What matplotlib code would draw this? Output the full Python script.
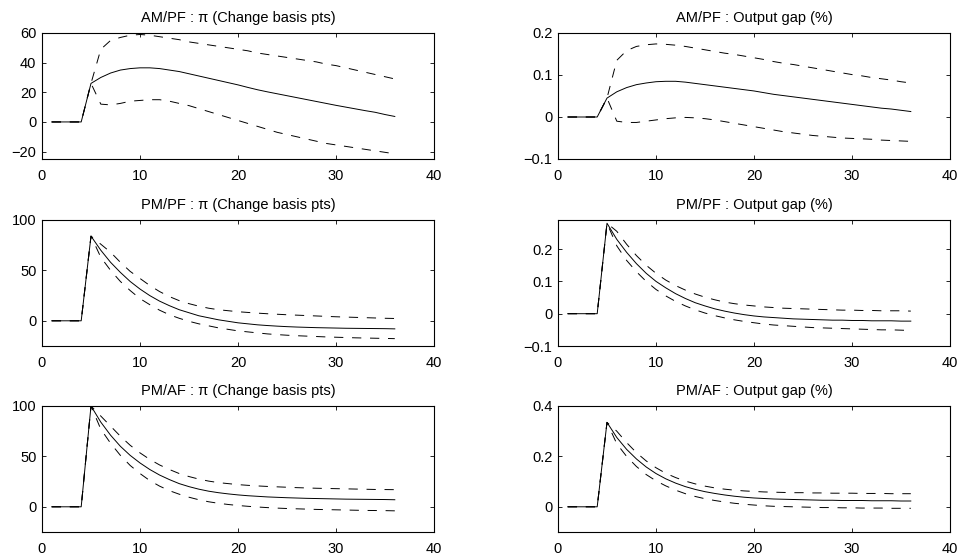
import numpy as np
from matplotlib import pyplot as plt

plt.rcParams["font.family"] = ["Liberation Sans", "DejaVu Sans"]

periods = list(range(1, 37))
pre = [0, 0, 0, 0]

# AM/PF
ampf_pi_mid = pre + [26, 30, 33, 35, 36, 36.5, 36.5, 36, 35, 34, 32.5, 31, 29.5, 28, 26.5, 25,
                     23.3, 21.7, 20.3, 19, 17.7, 16.4, 15.1, 13.8, 12.5, 11.2, 10, 8.8, 7.6, 6.5, 5, 3.7]
ampf_pi_hi = pre + [26, 49, 55, 57, 58.5, 59, 58.5, 57.5, 56.5, 55.5, 54, 53, 52, 51, 50, 49,
                    48, 46.5, 45.5, 44.5, 43.5, 42.5, 41.5, 40.5, 39, 38, 36.5, 35, 33.5, 32, 30.5, 29]
ampf_pi_lo = pre + [26, 12, 11.5, 12.5, 14, 14.5, 15, 15, 14, 12.5, 11, 9, 7, 5, 3, 1,
                    -1, -3, -5, -7, -8.5, -10, -11.5, -13, -14.5, -15.5, -16.5, -17.5, -18.5, -19.5, -20.5, -21.5]
ampf_y_mid = pre + [0.045, 0.06, 0.07, 0.077, 0.081, 0.084, 0.085, 0.085, 0.083, 0.08, 0.077, 0.074,
                    0.071, 0.068, 0.065, 0.062, 0.058, 0.054, 0.051, 0.048, 0.045, 0.042, 0.039, 0.036,
                    0.033, 0.03, 0.027, 0.024, 0.021, 0.019, 0.016, 0.013]
ampf_y_hi = pre + [0.045, 0.135, 0.158, 0.168, 0.172, 0.174, 0.173, 0.171, 0.168, 0.164, 0.16, 0.156,
                   0.152, 0.149, 0.145, 0.141, 0.137, 0.132, 0.128, 0.125, 0.121, 0.117, 0.113, 0.109,
                   0.105, 0.101, 0.098, 0.094, 0.091, 0.088, 0.084, 0.081]
ampf_y_lo = pre + [0.045, -0.01, -0.013, -0.013, -0.01, -0.007, -0.004, -0.002, -0.001, -0.002, -0.004,
                   -0.007, -0.011, -0.015, -0.019, -0.023, -0.027, -0.031, -0.035, -0.038, -0.041, -0.044,
                   -0.046, -0.048, -0.05, -0.051, -0.052, -0.053, -0.055, -0.056, -0.057, -0.058]

# PM/PF
pmpf_pi_mid = pre + [84, 70, 58, 48, 39, 31.5, 25, 19.5, 15, 11, 8, 5, 3, 1, -0.5, -2,
                     -3, -4, -4.7, -5.3, -5.8, -6.2, -6.5, -6.8, -7, -7.2, -7.4, -7.5, -7.6, -7.7, -7.8, -8]
pmpf_pi_hi = pre + [84, 76, 68, 58, 49, 42, 35, 29, 24, 20, 17, 14.5, 12.5, 11, 10, 9,
                    8.3, 7.6, 7, 6.5, 6, 5.6, 5.2, 4.8, 4.4, 4, 3.7, 3.4, 3.1, 2.8, 2.5, 2.3]
pmpf_pi_lo = pre + [84, 63, 50, 39, 30, 22, 16, 10.5, 6, 2.5, -0.5, -3, -5, -7, -8.5, -10,
                    -11, -12, -13, -13.7, -14.3, -14.8, -15.2, -15.6, -16, -16.3, -16.6, -16.9, -17.1,
                    -17.3, -17.5, -17.7]
pmpf_y_mid = pre + [0.28, 0.23, 0.19, 0.155, 0.125, 0.1, 0.08, 0.062, 0.047, 0.034, 0.024, 0.015,
                    0.008, 0.002, -0.003, -0.007, -0.01, -0.012, -0.014, -0.016, -0.017, -0.018, -0.019,
                    -0.02, -0.02, -0.021, -0.021, -0.022, -0.022, -0.022, -0.023, -0.023]
pmpf_y_hi = pre + [0.28, 0.255, 0.215, 0.18, 0.15, 0.125, 0.104, 0.087, 0.073, 0.061, 0.051, 0.043,
                   0.036, 0.031, 0.027, 0.024, 0.021, 0.019, 0.017, 0.016, 0.015, 0.014, 0.013, 0.012,
                   0.011, 0.011, 0.01, 0.01, 0.009, 0.009, 0.009, 0.008]
pmpf_y_lo = pre + [0.28, 0.21, 0.165, 0.13, 0.1, 0.075, 0.055, 0.038, 0.024, 0.012, 0.002, -0.006,
                   -0.013, -0.019, -0.024, -0.028, -0.032, -0.035, -0.037, -0.039, -0.041, -0.043,
                   -0.044, -0.045, -0.046, -0.047, -0.048, -0.049, -0.05, -0.05, -0.051, -0.052]

# PM/AF
pmaf_pi_mid = pre + [100, 84, 71, 60, 51, 43.5, 37, 31.5, 27, 23, 20, 17.5, 15.5, 14, 12.8, 11.8,
                     11, 10.4, 9.8, 9.4, 9, 8.7, 8.4, 8.2, 8, 7.8, 7.6, 7.5, 7.4, 7.3, 7.2, 7]
pmaf_pi_hi = pre + [100, 90, 80, 70, 61, 53.5, 47, 41.5, 37, 33, 30, 27.5, 25.5, 24, 23, 22,
                    21.3, 20.7, 20.2, 19.8, 19.4, 19, 18.7, 18.4, 18.2, 18, 17.8, 17.6, 17.4, 17.2, 17.1, 17]
pmaf_pi_lo = pre + [100, 77, 63, 51, 41, 33, 26, 20.5, 16, 12.5, 9.5, 7, 5, 3.5, 2.3, 1.3,
                    0.5, -0.2, -0.8, -1.3, -1.7, -2, -2.3, -2.6, -2.8, -3, -3.2, -3.4, -3.6, -3.7, -3.8, -4]
pmaf_y_mid = pre + [0.335, 0.275, 0.228, 0.19, 0.158, 0.132, 0.111, 0.094, 0.08, 0.069, 0.06, 0.053,
                    0.047, 0.042, 0.038, 0.035, 0.033, 0.031, 0.03, 0.029, 0.028, 0.027, 0.026, 0.026,
                    0.025, 0.025, 0.025, 0.024, 0.024, 0.024, 0.023, 0.023]
pmaf_y_hi = pre + [0.335, 0.3, 0.255, 0.215, 0.182, 0.155, 0.133, 0.116, 0.102, 0.091, 0.082, 0.075,
                   0.07, 0.066, 0.063, 0.061, 0.059, 0.058, 0.057, 0.056, 0.056, 0.055, 0.055, 0.054,
                   0.054, 0.054, 0.053, 0.053, 0.053, 0.052, 0.052, 0.052]
pmaf_y_lo = pre + [0.335, 0.25, 0.2, 0.16, 0.128, 0.103, 0.083, 0.066, 0.052, 0.041, 0.032, 0.025,
                   0.019, 0.014, 0.01, 0.007, 0.004, 0.002, 0.001, 0, -0.001, -0.002, -0.003, -0.003,
                   -0.004, -0.004, -0.005, -0.005, -0.005, -0.006, -0.006, -0.006]

titles = ["AM/PF : \u03c0 (Change basis pts)", "AM/PF : Output gap (%)",
          "PM/PF : \u03c0 (Change basis pts)", "PM/PF : Output gap (%)",
          "PM/AF : \u03c0 (Change basis pts)", "PM/AF : Output gap (%)"]
series = [(ampf_pi_mid, ampf_pi_hi, ampf_pi_lo), (ampf_y_mid, ampf_y_hi, ampf_y_lo),
          (pmpf_pi_mid, pmpf_pi_hi, pmpf_pi_lo), (pmpf_y_mid, pmpf_y_hi, pmpf_y_lo),
          (pmaf_pi_mid, pmaf_pi_hi, pmaf_pi_lo), (pmaf_y_mid, pmaf_y_hi, pmaf_y_lo)]
ylims = [(-25, 60), (-0.1, 0.2), (-25, 100), (-0.1, 0.29), (-25, 100), (-0.1, 0.4)]
yticks = [[-20, 0, 20, 40, 60], [-0.1, 0, 0.1, 0.2], [0, 50, 100],
          [-0.1, 0, 0.1, 0.2], [0, 50, 100], [0, 0.2, 0.4]]
xticks = [0, 10, 20, 30, 40]

fig = plt.figure(figsize=(9.62, 5.57), dpi=100)
W, H = 962.0, 557.0
lefts = [42, 558]
tops = [33, 220, 406]
aw, ah = 392, 126
dash = (0, (9.5, 9))

for i in range(6):
    row, col = divmod(i, 2)
    ax = fig.add_axes([lefts[col] / W, 1 - (tops[row] + ah) / H, aw / W, ah / H])
    mid, hi, lo = series[i]
    ax.plot(periods, mid, color="black", lw=0.7)
    ax.plot(periods, hi, color="black", lw=0.7, linestyle=dash)
    ax.plot(periods, lo, color="black", lw=0.7, linestyle=dash)
    ax.set_xlim(0, 40)
    ax.set_ylim(*ylims[i])
    ax.set_xticks(xticks)
    ax.set_yticks(yticks[i])
    ax.set_yticklabels([f"{v:g}".replace("-", "\u2212") for v in yticks[i]])
    ax.tick_params(direction="in", top=True, right=True, length=3, width=0.6, labelsize=10.5)
    ax.tick_params(axis="x", pad=7.5)
    ax.tick_params(axis="y", pad=4)
    for s in ax.spines.values():
        s.set_linewidth(0.8)
    ax.set_title(titles[i], fontsize=10.5, pad=8)

plt.savefig("out.png", dpi=100)
plt.close()
